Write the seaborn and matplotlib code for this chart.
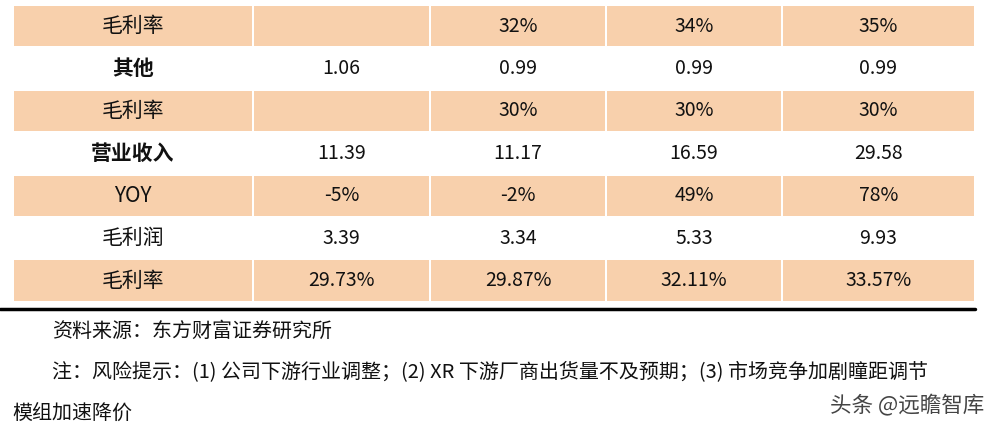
import matplotlib
matplotlib.use("Agg")
import matplotlib.pyplot as plt
import seaborn as sns
import numpy as np

sns.set_theme(style="white")
plt.rcParams['font.family'] = ['Noto Sans CJK SC', 'DejaVu Sans']

row_labels = ["毛利率", "其他", "毛利率", "营业收入", "YOY", "毛利润", "毛利率"]
col1 = ["", "1.06", "", "11.39", "-5%", "3.39", "29.73%"]
col2 = ["32%", "0.99", "30%", "11.17", "-2%", "3.34", "29.87%"]
col3 = ["34%", "0.99", "30%", "16.59", "49%", "5.33", "32.11%"]
col4 = ["35%", "0.99", "30%", "29.58", "78%", "9.93", "33.57%"]
shaded = [1, 0, 1, 0, 1, 0, 1]
bold_rows = [1, 3]
source = "资料来源：东方财富证券研究所"
note1 = "注：风险提示：(1) 公司下游行业调整；(2) XR 下游厂商出货量不及预期；(3) 市场竞争加剧瞳距调节"
note2 = "模组加速降价"
watermark = "头条 @远瞻智库"

W, H = 989, 433
fig = plt.figure(figsize=(W/100, H/100), dpi=100)
ax = fig.add_axes([0, 0, 1, 1])
ax.set_xlim(0, W); ax.set_ylim(H, 0); ax.axis("off")

edges = [13, 253, 430, 606, 782, 975]
top, rh = 5, 42.4
cols = [row_labels, col1, col2, col3, col4]
fill = "#F8D0AC"
for r in range(7):
    y0 = top + r * rh
    for c in range(5):
        if shaded[r]:
            ax.barh(y0 + rh/2, edges[c+1]-edges[c]-2, left=edges[c]+1, height=rh-2,
                    color=fill, linewidth=0)
        txt = cols[c][r]
        if txt:
            ax.text((edges[c]+edges[c+1])/2, y0 + rh/2, txt, ha="center", va="center",
                    fontsize=15 if c == 0 else 14, color="#111111",
                    fontweight="bold" if (c == 0 and r in bold_rows) else "normal")
ax.plot([0, 975], [309, 309], color="black", lw=2.5)
ax.text(52, 331, source, fontsize=14.4, va="center", color="#111111")
ax.text(52, 372, note1, fontsize=14.4, va="center", color="#111111")
ax.text(12, 413, note2, fontsize=14.4, va="center", color="#111111")
ax.text(984, 406, watermark, fontsize=15.5, va="center", ha="right", color="#444444")
fig.savefig("out.png", dpi=100)
